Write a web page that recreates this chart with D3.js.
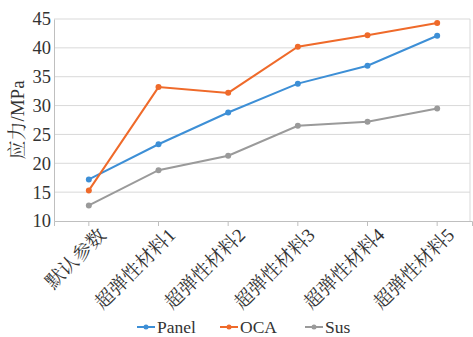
<!DOCTYPE html>
<html><head><meta charset="utf-8">
<script src="https://cdn.jsdelivr.net/npm/d3@7"></script>
<style>body{margin:0;background:#fff}</style>
</head><body>
<svg id="c" width="473" height="337"></svg>
<script>
const categories = ["默认参数","超弹性材料1","超弹性材料2","超弹性材料3","超弹性材料4","超弹性材料5"];
const panel = [17.2, 23.3, 28.8, 33.8, 36.9, 42.1];
const oca   = [15.3, 33.2, 32.2, 40.2, 42.2, 44.3];
const sus   = [12.7, 18.8, 21.3, 26.5, 27.2, 29.5];
const yTicks = [10,15,20,25,30,35,40,45];
const seriesNames = ["Panel","OCA","Sus"];
const colors = ["#3d8fd6","#ef6a2a","#9a9a9a"];
const series = [panel, oca, sus];

const serif = '"Liberation Serif", "Times New Roman", serif';
const cjk = '"Liberation Serif", "Noto Serif CJK SC", serif';
const svg = d3.select("#c");
const L = 54, R = 472, T = 19, B = 221;
const x = d3.scaleBand().domain(categories).range([L, R]);
const y = d3.scaleLinear().domain([10,45]).range([B, T]);

svg.append("g").selectAll("line").data(yTicks.filter(d=>d>10)).join("line")
  .attr("x1", L).attr("x2", 470).attr("y1", d=>y(d)).attr("y2", d=>y(d))
  .attr("stroke", "#d9d9d9").attr("stroke-width", 1);
svg.append("line").attr("x1",470).attr("x2",470).attr("y1",T).attr("y2",B)
  .attr("stroke","#d9d9d9");

const ya = svg.append("g").attr("transform", `translate(${L},0)`)
  .call(d3.axisLeft(y).tickValues(yTicks).tickSize(0).tickPadding(3));
ya.attr("font-family", null).attr("font-size", null);
ya.select(".domain").attr("stroke","#bfbfbf");
ya.selectAll("text").style("font-family", serif).style("font-size","18.5px").attr("fill","#333");

const xa = svg.append("g").attr("transform", `translate(0,${B})`)
  .call(d3.axisBottom(x).tickSize(5).tickPadding(0));
xa.attr("font-family", null).attr("font-size", null);
xa.select(".domain").attr("stroke","#bfbfbf");
xa.selectAll(".tick line").attr("stroke","#bfbfbf");
xa.selectAll("text").style("font-family", cjk).style("font-size","19px").attr("fill","#333")
  .attr("text-anchor","end").attr("dy","0.35em")
  .attr("transform","translate(10,7) rotate(-45)");

svg.append("text").attr("transform","translate(24,120) rotate(-90)")
  .attr("text-anchor","middle").style("font-family", cjk).style("font-size","19px").attr("fill","#333")
  .text("应力/MPa");

const line = d3.line().x((d,i)=>x(categories[i]) + x.bandwidth()/2).y(d=>y(d));
series.forEach((s,k)=>{
  svg.append("path").datum(s).attr("d", line).attr("fill","none")
    .attr("stroke", colors[k]).attr("stroke-width", 2);
  svg.append("g").selectAll("circle").data(s).join("circle")
    .attr("cx",(d,i)=>x(categories[i]) + x.bandwidth()/2).attr("cy", d=>y(d))
    .attr("r", 3).attr("fill", colors[k]);
});

const legX = [137, 220, 305];
seriesNames.forEach((n,k)=>{
  const g = svg.append("g").attr("transform",`translate(${legX[k]},327)`);
  g.append("line").attr("x1",0).attr("x2",18).attr("stroke",colors[k]).attr("stroke-width",2);
  g.append("circle").attr("cx",9).attr("r",2.5).attr("fill",colors[k]);
  g.append("text").attr("x",20).attr("dy","0.35em").style("font-family", serif)
    .style("font-size","17.5px").attr("fill","#333").text(n);
});
</script>
</body></html>
